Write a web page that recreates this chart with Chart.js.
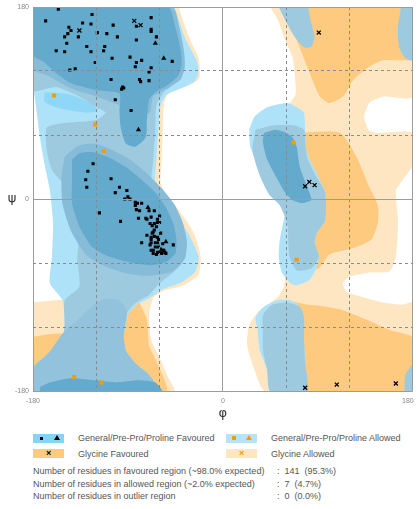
<!DOCTYPE html>
<html>
<head>
<meta charset="utf-8">
<script src="https://cdn.jsdelivr.net/npm/chart.js@4.4.0/dist/chart.umd.min.js"></script>
<style>
  body { margin: 0; background: #fff; font-family: "Liberation Sans", Arial, sans-serif; }
  #wrap { position: relative; width: 418px; height: 509px; overflow: hidden; }
  #plot { position: absolute; left: 0; top: 0; width: 418px; height: 425px; }
  .txt { position: absolute; font-size: 9px; line-height: 12px; color: #555; white-space: nowrap; }
  .sw { position: absolute; width: 31px; height: 9px; }
  .sq { position: absolute; width: 3px; height: 3px; }
  .tri { position: absolute; width: 0; height: 0; border-left: 3px solid transparent; border-right: 3px solid transparent; border-bottom: 5px solid #000; }
  .x { position: absolute; font-size: 9px; line-height: 9px; font-weight: bold; }
</style>
</head>
<body>
<div id="wrap">
  <div id="plot"><canvas id="rama"></canvas></div>

  <div class="sw" style="left:33px;top:434px;background:#87d3f5"></div>
  <div class="sq" style="left:40px;top:437px;background:#000"></div>
  <div class="tri" style="left:54px;top:435px"></div>
  <div class="txt" style="left:78px;top:432px">General/Pre-Pro/Proline Favoured</div>

  <div class="sw" style="left:226px;top:434px;background:#b5e4f9"></div>
  <div class="sq" style="left:232px;top:436px;width:4px;height:4px;background:#f59d00"></div>
  <div class="tri" style="left:246px;top:435px;border-bottom-color:#f59d00"></div>
  <div class="txt" style="left:271px;top:432px">General/Pre-Pro/Proline Allowed</div>

  <div class="sw" style="left:33px;top:449px;background:#fdca80"></div>
  <div class="x" style="left:46px;top:449px;color:#000">×</div>
  <div class="txt" style="left:78px;top:448px">Glycine Favoured</div>

  <div class="sw" style="left:226px;top:449px;background:#fee6c3"></div>
  <div class="x" style="left:239px;top:449px;color:#f59d00">×</div>
  <div class="txt" style="left:271px;top:448px">Glycine Allowed</div>

  <div class="txt" style="left:33px;top:465px">Number of residues in favoured region (~98.0% expected)</div>
  <div class="txt" style="left:277px;top:465px">:&nbsp; 141&nbsp; (95.3%)</div>
  <div class="txt" style="left:33px;top:478px">Number of residues in allowed region (~2.0% expected)</div>
  <div class="txt" style="left:277px;top:478px">:&nbsp; 7&nbsp; (4.7%)</div>
  <div class="txt" style="left:33px;top:490px">Number of residues in outlier region</div>
  <div class="txt" style="left:277px;top:490px">:&nbsp; 0&nbsp; (0.0%)</div>
</div>

<script>
// axis labels
const xTickLabels = [-180, 0, 180];
const yTickLabels = [-180, 0, 180];

// contour regions, [phi, psi] in degrees
const glyAllowedRegions = [
  [[45,180],[180,180],[180,96],[152,96],[139,90],[134,77],[138,65],[145,62],[180,62],[180,32],[167,13],[164,8],[166,-22],[164,-54],[158,-68],[139,-69],[120,-73],[114,-79],[117,-87],[133,-92],[152,-97],[171,-99],[180,-97],[180,-180],[40,-180],[30,-160],[23,-137],[25,-118],[35,-104],[52,-92],[58,-81],[60,-60],[62,-30],[60,-5],[50,10],[40,30],[32,50],[37,79],[61,88],[69,98],[68,118],[66,133],[59,149],[52,168],[45,180]],
  [[-180,-97],[-159,-95],[-147,-95],[-147,-142],[-180,-170],[-180,-97]],
  [[-42,180],[-38,168],[-31,149],[-23,132],[-23,112],[-52,98],[-56,88],[-57,65],[-58,37],[-59,15],[-52,1],[-42,-10],[-28,-31],[-21,-54],[-23,-71],[-38,-81],[-56,-86],[-66,-93],[-70,-109],[-68,-132],[-59,-151],[-52,-167],[-46,-180],[-117,-180],[-117,180],[-42,180]]
];
const glyFavouredRegions = [
  [[59,180],[180,180],[180,132],[152,130],[139,124],[124,112],[114,96],[101,90],[92,96],[80,124],[70,149],[63,168],[59,180]],
  [[70,62],[111,62],[127,39],[139,11],[147,-6],[147,-22],[141,-38],[124,-46],[101,-52],[91,-65],[75,-67],[68,-1],[70,62]],
  [[61,-95],[80,-99],[98,-101],[113,-104],[136,-113],[159,-123],[180,-130],[180,-180],[70,-180],[61,-95]],
  [[-180,-129],[-159,-126],[-147,-128],[-147,-151],[-180,-170],[-180,-129]],
  [[-80,-95],[-72,-113],[-70,-137],[-61,-156],[-53,-180],[-89,-180],[-98,-132],[-94,-104],[-80,-95]]
];
const generalAllowedRegions = [
  [[-180,180],[-47,180],[-42,168],[-35,149],[-25,130],[-23,119],[-27,110],[-39,104],[-53,98],[-59,88],[-61,65],[-63,37],[-64,13],[-56,-1],[-47,-13],[-33,-32],[-23,-54],[-26,-68],[-39,-78],[-58,-85],[-68,-92],[-80,-98],[-89,-107],[-94,-128],[-92,-142],[-83,-154],[-70,-165],[-61,-180],[-180,-180],[-180,-158],[-164,-144],[-152,-132],[-150,-116],[-152,-95],[-164,-79],[-162,-54],[-161,-22],[-164,8],[-169,32],[-173,55],[-178,93],[-180,107],[-180,180]],
  [[25,65],[30,77],[42,86],[61,90],[70,86],[77,81],[78,62],[80,43],[89,24],[97,6],[97,-20],[89,-32],[87,-41],[91,-54],[89,-64],[82,-76],[70,-81],[64,-79],[56,-69],[53,-54],[54,-38],[59,-10],[52,6],[45,11],[35,30],[26,49],[25,65]],
  [[33,-123],[31,-111],[39,-101],[52,-95],[64,-95],[73,-101],[77,-111],[77,-132],[78,-154],[80,-180],[45,-180],[42,-160],[35,-142],[33,-123]]
];
const generalAllowedCore = [
  [[-169,100],[-145,98],[-122,88],[-120,82],[-131,81],[-155,85],[-169,91],[-169,100]]
];
const prolineAllowedRegions = [
  [[-180,180],[-50,180],[-44,163],[-40,144],[-38,130],[-40,116],[-47,107],[-56,100],[-63,88],[-64,65],[-66,37],[-68,13],[-61,1],[-53,-8],[-42,-24],[-36,-43],[-38,-59],[-47,-69],[-61,-80],[-70,-90],[-82,-97],[-91,-107],[-94,-128],[-92,-142],[-83,-154],[-70,-165],[-61,-180],[-180,-180],[-180,-158],[-164,-144],[-152,-132],[-150,-116],[-150,-95],[-136,-82],[-138,-57],[-136,-29],[-141,-6],[-150,13],[-162,27],[-167,46],[-167,67],[-152,71],[-120,74],[-111,81],[-120,86],[-136,96],[-158,105],[-180,102],[-180,180]],
  [[31,65],[47,69],[68,69],[77,65],[78,55],[80,39],[87,24],[97,6],[97,-20],[89,-32],[87,-41],[91,-54],[84,-65],[70,-67],[63,-53],[61,-23],[54,-6],[44,4],[35,22],[28,46],[31,65]],
  [[38,-123],[38,-109],[47,-99],[61,-97],[73,-101],[77,-111],[77,-132],[78,-154],[80,-180],[45,-180],[42,-160],[38,-142],[38,-123]],
  [[53,180],[59,168],[68,152],[77,142],[84,143],[87,152],[83,168],[80,180],[53,180]],
  [[169,180],[166,161],[167,143],[173,132],[180,130],[180,180],[169,180]],
  [[172,-180],[173,-165],[178,-157],[180,-155],[180,-180],[172,-180]]
];
const prolineAllowedCore = [
  [[-180,-158],[-164,-143],[-152,-126],[-136,-112],[-120,-97],[-108,-93],[-98,-95],[-91,-106],[-94,-128],[-92,-142],[-83,-154],[-70,-165],[-61,-180],[-180,-180],[-180,-158]]
];
const favouredRing = [
  [[-180,180],[-48,180],[-41,160],[-37,140],[-36,124],[-40,112],[-52,104],[-66,96],[-70,80],[-98,88],[-120,96],[-145,104],[-165,115],[-180,122],[-180,180]],
  [[-150,40],[-137,50],[-122,52],[-105,46],[-88,37],[-72,24],[-58,10],[-46,-5],[-38,-22],[-34,-40],[-36,-56],[-48,-68],[-68,-72],[-90,-70],[-112,-63],[-130,-52],[-144,-30],[-152,-5],[-153,20],[-150,40]]
];
const generalFavouredRegions = [
  [[-180,180],[-52,180],[-45,161],[-40,140],[-39,126],[-42,116],[-52,107],[-64,100],[-70,93],[-72,74],[-73,58],[-83,49],[-92,52],[-97,68],[-98,83],[-98,99],[-120,102],[-145,109],[-158,118],[-169,128],[-180,135],[-180,180]],
  [[-143,37],[-136,43],[-124,44],[-108,39],[-92,30],[-77,18],[-64,6],[-54,-8],[-47,-23],[-44,-38],[-45,-51],[-54,-59],[-68,-62],[-86,-60],[-108,-54],[-124,-45],[-136,-26],[-143,-4],[-143,18],[-143,37]],
  [[39,62],[49,65],[58,63],[66,58],[70,49],[73,30],[80,11],[84,-1],[75,-4],[66,-1],[59,6],[52,18],[42,37],[38,53],[39,62]],
  [[-173,-176],[-164,-172],[-145,-168],[-120,-170],[-101,-172],[-80,-170],[-64,-172],[-58,-180],[-173,-180],[-173,-176]]
];

// residues, [phi, psi]
const favouredRes = [
  [-156,178],[-124,173],[-168,167],[-133,165],[-125,164],[-104,163],[-82,162],[-68,170],[-146,161],[-144,158],
  [-147,155],[-150,152],[-119,156],[-110,155],[-100,152],[-137,152],[-63,152],[-82,149],[-68,159],[-68,157],
  [-148,146],[-129,143],[-112,143],[-113,139],[-125,138],[-150,138],[-158,139],[-105,132],[-88,133],[-77,130],
  [-82,128],[-83,124],[-68,123],[-70,119],[-48,129],[-121,128],[-140,122],[-145,121],[-106,112],[-79,112],
  [-78,110],[-70,111],[-95,105],[-96,103],[-94,104],[-102,93],[-87,83],
  [-123,33],[-128,26],[-130,18],[-129,11],[-106,19],[-98,11],[-91,8],[-102,6],[-93,0],[-90,2],[-88,0],
  [-83,-3],[-81,-4],[-77,-4],[-79,-11],[-82,-10],[-117,-13],[-97,-21],[-80,-18],[-73,-18],[-70,-11],
  [-68,-17],[-62,-19],[-65,-23],[-69,-23],[-67,-25],[-62,-22],[-60,-22],[-63,-26],[-65,-29],[-59,-32],
  [-67,-32],[-72,-34],[-68,-36],[-65,-35],[-62,-36],[-61,-38],[-68,-38],[-68,-41],[-64,-41],[-61,-41],
  [-57,-42],[-61,-45],[-59,-47],[-57,-48],[-55,-50],[-54,-51],[-58,-51],[-62,-50],[-66,-48],[-64,-45],
  [-60,-50],[-77,-41],[-69,-43],[-47,-43],[-68,-48],[-66,-51],[-63,-52],[-56,-48],[-83,-6],[-65,-11],
  [-60,-16],[-72,-19],[-66,-31]
];
const favouredProRes = [[-64,146],[-56,132],[-80,65],[-71,-8],[-54,-40]];
const allowedRes = [[-160,97],[-121,70],[-113,45],[67,53],[70,-57],[-141,-167],[-115,-172]];
const glycineRes = [[-84,167],[-78,163],[-136,158],[91,156],[78,12],[82,16],[87,13],[78,-177],[108,-174],[164,-173]];

const toXY = arr => arr.map(([x, y]) => ({ x, y }));

// bottom layer first
const layers = [
  { regions: glyAllowedRegions, color: '#fee6c3' },
  { regions: glyFavouredRegions, color: '#fdca80' },
  { regions: generalAllowedRegions, color: '#aee2f9' },
  { regions: generalAllowedCore, color: '#8fd7f7' },
  { regions: prolineAllowedRegions, color: '#9ecae0' },
  { regions: prolineAllowedCore, color: '#93c3dc' },
  { regions: favouredRing, color: '#86bcd8' },
  { regions: generalFavouredRegions, color: '#64aacd' }
];

const datasets = [];
let order = 100;
layers.forEach(layer => {
  layer.regions.forEach(poly => {
    datasets.push({
      data: toXY(poly),
      showLine: true,
      fill: 'shape',
      backgroundColor: layer.color,
      borderWidth: 0,
      borderColor: 'transparent',
      pointRadius: 0,
      tension: 0.2,
      order: order
    });
  });
  order--;
});

datasets.push({ data: toXY(favouredRes), pointStyle: 'rect', pointRadius: 2.2, backgroundColor: '#000', borderWidth: 0, order: 1 });
datasets.push({ data: toXY(favouredProRes), pointStyle: 'triangle', pointRadius: 3, backgroundColor: '#000', borderWidth: 0, order: 1 });
datasets.push({ data: toXY(allowedRes), pointStyle: 'rect', pointRadius: 2.9, backgroundColor: '#f59d00', borderWidth: 0, order: 0 });
datasets.push({ data: toXY(glycineRes), pointStyle: 'crossRot', pointRadius: 2.8, borderColor: '#000', borderWidth: 1.3, order: 0 });

const isMain = v => v % 180 === 0;

const axisText = {
  id: 'axisText',
  afterDraw(chart) {
    const { ctx, scales: { x, y } } = chart;
    ctx.save();
    ctx.fillStyle = '#888';
    ctx.font = '7px "Liberation Sans", Arial, sans-serif';
    ctx.textBaseline = 'middle';
    ctx.textAlign = 'right';
    yTickLabels.forEach(v => ctx.fillText(String(v), x.left - 4, y.getPixelForValue(v)));
    xTickLabels.forEach((v, i) => {
      ctx.textAlign = i === xTickLabels.length - 1 ? 'right' : 'center';
      const px = x.getPixelForValue(v) + (i === xTickLabels.length - 1 ? 1 : 0);
      ctx.fillText(String(v), px, y.bottom + 10);
    });
    ctx.fillStyle = '#333';
    ctx.font = '13px "DejaVu Sans", sans-serif';
    ctx.textAlign = 'center';
    ctx.fillText('ψ', 12, y.getPixelForValue(0));
    ctx.fillText('φ', x.getPixelForValue(0), y.bottom + 23);
    ctx.restore();
  }
};

const axisOpts = {
  type: 'linear',
  min: -180,
  max: 180,
  ticks: { stepSize: 60, display: false },
  grid: {
    z: 1,
    drawTicks: false,
    lineWidth: 1,
    color: ctx => (ctx.tick && isMain(ctx.tick.value)) ? '#9c9c9c' : '#8a8a8a'
  },
  border: {
    display: false,
    dash: ctx => (ctx.tick && !isMain(ctx.tick.value)) ? [3, 3] : []
  }
};

new Chart(document.getElementById('rama'), {
  type: 'scatter',
  data: { datasets },
  options: {
    responsive: true,
    maintainAspectRatio: false,
    animation: false,
    events: [],
    layout: { padding: { left: 33, top: 7, right: 1, bottom: 34 } },
    scales: { x: axisOpts, y: axisOpts },
    plugins: { legend: { display: false }, tooltip: { enabled: false } }
  },
  plugins: [axisText]
});
</script>
</body>
</html>
